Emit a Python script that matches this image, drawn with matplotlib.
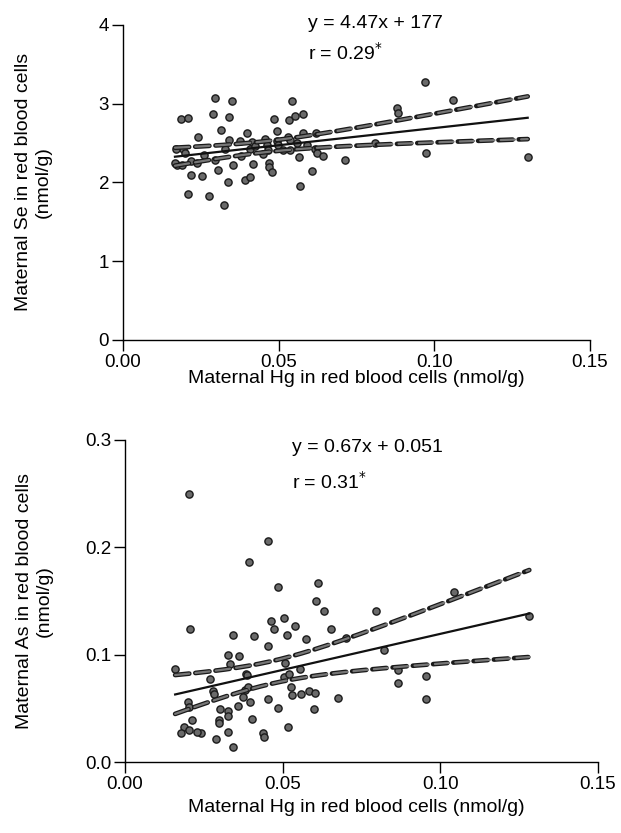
import numpy as np
import matplotlib
matplotlib.use("Agg")
import matplotlib.pyplot as plt

plt.rcParams['font.family'] = ['Liberation Sans', 'DejaVu Sans']

# top panel: Hg vs Se in red blood cells
se_hg = [0.0296, 0.0349, 0.0544, 0.0185, 0.0210, 0.0290, 0.0340, 0.0485, 0.0534, 0.0553,
         0.0579, 0.0240, 0.0315, 0.0397, 0.0496, 0.0172, 0.0220, 0.0304, 0.0352, 0.0419,
         0.0470, 0.0470, 0.0567, 0.0606, 0.0713, 0.0220, 0.0253, 0.0210, 0.0277, 0.0324,
         0.0336, 0.0392, 0.0408, 0.0480, 0.0569, 0.0970, 0.1059, 0.0879, 0.0883, 0.1300,
         0.0972, 0.0578, 0.0620, 0.0617, 0.0622, 0.0641, 0.0810, 0.0342, 0.0376, 0.0413,
         0.0456, 0.0462, 0.0494, 0.0498, 0.0531, 0.0536, 0.0558, 0.0590, 0.0194, 0.0328,
         0.0408, 0.0424, 0.0467, 0.0515, 0.0536, 0.0167, 0.0189, 0.0237, 0.0296, 0.0170,
         0.0200, 0.0260, 0.0450, 0.0380]
se_val = [3.07, 3.03, 3.04, 2.81, 2.82, 2.87, 2.83, 2.81, 2.79, 2.85,
          2.87, 2.58, 2.66, 2.63, 2.65, 2.22, 2.27, 2.16, 2.22, 2.24,
          2.25, 2.20, 2.32, 2.15, 2.29, 2.09, 2.08, 1.855, 1.83, 1.715,
          2.00, 2.03, 2.07, 2.13, 1.95, 3.27, 3.05, 2.94, 2.88, 2.32,
          2.37, 2.63, 2.63, 2.42, 2.37, 2.33, 2.50, 2.54, 2.53, 2.51,
          2.55, 2.48, 2.52, 2.48, 2.58, 2.54, 2.50, 2.48, 2.43, 2.43,
          2.43, 2.46, 2.41, 2.41, 2.41, 2.25, 2.22, 2.25, 2.29, 2.42,
          2.38, 2.35, 2.36, 2.33]

# bottom panel: Hg vs As in red blood cells
as_hg = [0.0203, 0.0453, 0.0393, 0.0484, 0.0613, 0.0607, 0.0630, 0.0206, 0.0341, 0.0408,
         0.0464, 0.0472, 0.0505, 0.0513, 0.0540, 0.0573, 0.0453, 0.0326, 0.0362, 0.0159,
         0.0268, 0.0333, 0.0385, 0.0507, 0.0555, 0.0278, 0.0281, 0.0380, 0.0390, 0.0375,
         0.0396, 0.0359, 0.0455, 0.0526, 0.0529, 0.0557, 0.0583, 0.0604, 0.0599, 0.0484,
         0.0200, 0.0203, 0.0302, 0.0328, 0.0328, 0.0297, 0.0297, 0.0212, 0.0188, 0.0203,
         0.0177, 0.0240, 0.0229, 0.0404, 0.0328, 0.0287, 0.0341, 0.0438, 0.0441, 0.0516,
         0.0653, 0.0677, 0.0795, 0.0701, 0.0821, 0.0865, 0.0865, 0.0956, 0.0956, 0.1282,
         0.1042, 0.0388, 0.0505, 0.0521]
as_val = [0.250, 0.206, 0.186, 0.163, 0.167, 0.150, 0.141, 0.124, 0.118, 0.117,
          0.131, 0.124, 0.134, 0.118, 0.127, 0.115, 0.108, 0.100, 0.099, 0.0867,
          0.077, 0.091, 0.082, 0.092, 0.0867, 0.066, 0.063, 0.067, 0.070, 0.061,
          0.056, 0.0525, 0.059, 0.070, 0.062, 0.063, 0.066, 0.0646, 0.049, 0.050,
          0.0556, 0.0515, 0.049, 0.048, 0.043, 0.039, 0.0366, 0.039, 0.033, 0.030,
          0.0273, 0.0267, 0.028, 0.040, 0.028, 0.0214, 0.0143, 0.0273, 0.0236, 0.0323,
          0.124, 0.060, 0.141, 0.116, 0.104, 0.0857, 0.074, 0.080, 0.059, 0.136,
          0.158, 0.081, 0.0795, 0.082]

x_ticks = [0.00, 0.05, 0.10, 0.15]
x_tick_labels = ['0.00', '0.05', '0.10', '0.15']
se_ticks = [0, 1, 2, 3, 4]
as_ticks = [0.0, 0.1, 0.2, 0.3]
as_tick_labels = ['0.0', '0.1', '0.2', '0.3']


def draw_panel(ax, x, y, eq_text, r_text, text_x, text_y):
    x = np.asarray(x)
    y = np.asarray(y)
    n = len(x)
    slope, intercept = np.polyfit(x, y, 1)
    resid = y - (slope * x + intercept)
    s = np.sqrt(np.sum(resid ** 2) / (n - 2))
    xm = x.mean()
    sxx = np.sum((x - xm) ** 2)
    xs = np.linspace(x.min(), x.max(), 200)
    fit = slope * xs + intercept
    half = 1.99 * s * np.sqrt(1.0 / n + (xs - xm) ** 2 / sxx)

    ax.scatter(x, y, s=27, facecolor='#6a6a6a', edgecolor='#1a1a1a', linewidth=1.0, zorder=3)
    ax.plot(xs, fit, color='#111111', lw=1.6, zorder=4)
    for band in (fit + half, fit - half):
        ax.plot(xs, band, color='#1a1a1a', lw=3.4, dashes=(3.0, 1.3),
                dash_capstyle='round', zorder=4)
        ax.plot(xs, band, color='#777777', lw=1.6, dashes=(6.4, 2.8),
                dash_capstyle='round', zorder=5)

    ax.text(text_x, text_y[0], eq_text, transform=ax.transAxes, fontsize=14, va='center')
    ax.text(text_x, text_y[1], r_text, transform=ax.transAxes, fontsize=14, va='center')

    for side in ('top', 'right'):
        ax.spines[side].set_visible(False)
    for side in ('left', 'bottom'):
        ax.spines[side].set_linewidth(1.0)
    ax.tick_params(direction='out', length=8, width=1.0, labelsize=13.5, pad=2)


fig = plt.figure(figsize=(6.21, 8.33), dpi=100)

ax1 = fig.add_axes([0.198, 0.592, 0.752, 0.378])
draw_panel(ax1, se_hg, se_val, 'y = 4.47x + 177', r'r = 0.29$^{*}$', 0.396, (1.005, 0.912))
ax1.set_xlim(0, 0.15)
ax1.set_ylim(0, 4)
ax1.set_xticks(x_ticks)
ax1.set_xticklabels(x_tick_labels)
ax1.set_yticks(se_ticks)
ax1.set_xlabel('Maternal Hg in red blood cells (nmol/g)', fontsize=14)
ax1.xaxis.set_label_coords(0.5, -0.097)
ax1.set_ylabel('Maternal Se in red blood cells\n(nmol/g)', fontsize=14, linespacing=1.25)
ax1.yaxis.set_label_coords(-0.152, 0.5)

ax2 = fig.add_axes([0.2013, 0.0852, 0.7617, 0.3866])
draw_panel(ax2, as_hg, as_val, 'y = 0.67x + 0.051', r'r = 0.31$^{*}$', 0.352, (0.978, 0.87))
ax2.set_xlim(0, 0.15)
ax2.set_ylim(0, 0.3)
ax2.set_xticks(x_ticks)
ax2.set_xticklabels(x_tick_labels)
ax2.set_yticks(as_ticks)
ax2.set_yticklabels(as_tick_labels)
ax2.set_xlabel('Maternal Hg in red blood cells (nmol/g)', fontsize=14)
ax2.xaxis.set_label_coords(0.49, -0.116)
ax2.set_ylabel('Maternal As in red blood cells\n(nmol/g)', fontsize=14, linespacing=1.25)
ax2.yaxis.set_label_coords(-0.152, 0.5)

fig.savefig('out.png', dpi=100, facecolor='white')
